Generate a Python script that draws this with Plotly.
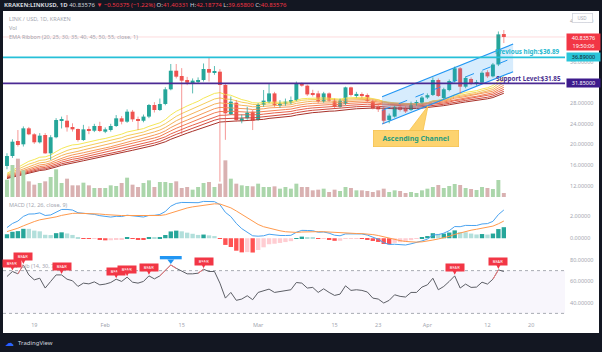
import plotly.graph_objects as go
import pandas as pd

# ---------------- data ----------------
dates = pd.date_range("2021-01-14", "2021-04-15", freq="D")

opens = [15.83, 17.77, 20.67, 20.03, 23.13, 21.97, 20.42, 21.84, 18.28, 21.40,
         24.60, 24.61, 23.26, 23.00, 20.87, 23.00, 22.67, 23.58, 22.48, 22.80,
         23.58, 25.07, 24.42, 26.36, 24.90, 24.60, 25.40, 27.65, 26.68, 27.85,
         30.69, 34.30, 33.27, 32.50, 32.00, 32.20, 32.50, 34.63, 33.92, 34.11,
         31.53, 25.90, 28.10, 24.61, 25.07, 26.36, 24.74, 27.65, 28.30, 29.90,
         27.65, 27.97, 28.10, 28.60, 31.85, 31.40, 29.85, 29.90, 28.30, 29.90,
         28.50, 27.30, 27.85, 31.07, 29.45, 29.70, 29.60, 28.40, 27.30, 26.80,
         24.75, 25.40, 27.30, 27.00, 26.70, 27.90, 28.10, 29.10, 29.60, 32.50,
         29.00, 30.55, 32.30, 34.76, 31.20, 32.70, 31.80, 32.00, 34.00, 33.20,
         35.50, 41.40331]
highs = [18.30, 21.00, 22.80, 23.50, 23.40, 22.20, 22.20, 22.20, 21.80, 25.10,
         25.40, 25.70, 24.10, 23.10, 23.80, 23.50, 24.00, 24.40, 23.30, 24.00,
         25.70, 25.50, 26.80, 26.70, 25.40, 25.80, 27.85, 28.20, 28.90, 31.10,
         35.60, 35.60, 34.80, 33.10, 32.80, 33.00, 35.70, 36.89, 35.20, 34.60,
         31.90, 29.30, 28.60, 25.80, 27.30, 26.70, 28.00, 30.56, 31.85, 30.20,
         28.60, 28.90, 29.30, 32.20, 32.00, 31.60, 30.60, 30.40, 30.20, 30.10,
         28.90, 28.90, 31.20, 31.20, 30.20, 30.10, 29.90, 28.70, 27.60, 27.30,
         26.00, 27.50, 27.80, 27.40, 28.30, 28.60, 29.40, 29.90, 33.00, 32.80,
         31.00, 32.60, 35.10, 35.00, 33.20, 33.00, 32.50, 34.20, 34.40, 35.80,
         41.90, 42.18774]
lows = [15.20, 17.40, 19.60, 19.60, 21.80, 20.10, 20.20, 18.20, 17.00, 21.20,
        23.10, 22.50, 22.50, 20.55, 20.70, 22.00, 22.40, 22.40, 22.20, 22.50,
        23.40, 23.90, 24.20, 24.40, 22.80, 24.30, 25.10, 26.20, 26.50, 27.60,
        30.50, 32.80, 22.00, 31.50, 29.90, 31.80, 32.20, 32.20, 33.50, 12.80,
        20.90, 25.70, 24.40, 24.10, 24.80, 22.80, 24.60, 27.30, 28.00, 27.30,
        27.10, 27.50, 27.80, 28.40, 31.20, 29.40, 29.30, 28.00, 28.10, 28.30,
        27.00, 27.10, 27.60, 29.30, 29.10, 29.00, 28.10, 26.80, 26.30, 24.00,
        24.10, 25.20, 26.40, 26.10, 26.50, 27.50, 27.90, 28.80, 29.40, 29.20,
        28.80, 30.30, 32.00, 29.80, 30.90, 31.50, 31.40, 31.80, 32.90, 33.00,
        35.20, 39.65800]
closes = [17.77, 20.54, 19.90, 23.13, 21.97, 20.42, 21.71, 18.28, 21.40, 24.74,
          24.90, 23.32, 22.93, 20.87, 22.93, 22.67, 23.58, 22.61, 22.93, 23.58,
          25.07, 24.42, 26.36, 24.87, 24.60, 25.40, 27.65, 26.68, 27.85, 30.69,
          34.30, 33.14, 32.37, 31.98, 32.37, 32.50, 34.63, 33.92, 34.24, 31.53,
          26.04, 28.30, 24.74, 25.07, 26.17, 24.61, 27.65, 28.50, 29.90, 27.65,
          27.97, 28.30, 28.60, 31.85, 31.40, 29.70, 29.65, 28.30, 29.90, 28.50,
          27.30, 28.50, 31.07, 29.60, 29.80, 29.40, 28.40, 27.00, 26.80, 24.60,
          25.60, 27.30, 26.70, 26.40, 28.00, 28.10, 29.10, 29.55, 32.50, 29.40,
          30.70, 32.30, 34.76, 31.20, 32.90, 31.80, 32.10, 33.90, 33.20, 35.50,
          41.33951, 40.83576]
volume_k = [1040, 1920, 2300, 1600, 940, 740, 840, 940, 1200, 1660,
            840, 1100, 700, 700, 860, 700, 540, 540, 540, 700,
            660, 840, 1160, 740, 600, 840, 1000, 600, 900, 900,
            840, 940, 540, 600, 440, 600, 840, 900, 600, 800,
            2200, 1100, 800, 700, 660, 640, 800, 600, 600, 640,
            500, 600, 500, 800, 600, 600, 400, 440, 500, 300,
            440, 360, 600, 540, 400, 400, 360, 300, 400, 500,
            300, 400, 360, 240, 300, 240, 400, 500, 600, 720,
            540, 660, 780, 720, 540, 480, 420, 600, 540, 480,
            1020, 240]
rsi_values = [64.5, 69.2, 67.0, 75.3, 66.0, 61.4, 62.9, 53.7, 59.9, 66.0,
              66.0, 62.0, 60.5, 55.2, 58.3, 57.6, 59.5, 56.7, 57.4, 58.9,
              62.0, 59.9, 63.9, 59.2, 58.3, 59.9, 65.1, 62.3, 65.1, 70.1,
              75.3, 72.2, 69.2, 67.0, 67.0, 67.6, 71.3, 69.2, 69.2, 58.3,
              44.3, 49.6, 42.2, 43.4, 46.5, 42.8, 49.6, 51.5, 52.7, 49.6,
              50.2, 50.9, 52.1, 58.9, 58.3, 53.7, 54.3, 49.6, 53.0, 49.6,
              46.8, 48.0, 55.8, 51.5, 52.1, 51.5, 50.0, 44.3, 43.4, 39.7,
              42.2, 47.4, 45.9, 45.3, 49.6, 49.6, 54.6, 56.7, 62.9, 52.1,
              55.2, 59.9, 65.1, 53.7, 57.4, 54.3, 54.6, 59.2, 57.4, 62.0,
              70.7, 69.2]
bear_idx = [1, 3, 10, 20, 22, 26, 36, 82, 90]
bull_idx = [30]

ema_lengths = [20, 25, 30, 35, 40, 45, 50, 55]
ema_seeds = [14.05, 13.90, 13.78, 13.65, 13.55, 13.45, 13.35, 13.24]
macd_fast_seed, macd_slow_seed, macd_signal_seed = 14.65, 13.90, 0.50

last_price = 40.83576
previous_high = 36.89
support_level = 31.85

channel_x = ["2021-03-23 16:48", "2021-04-16 16:48"]
channel_upper = [29.25, 39.47]
channel_lower = [23.96, 34.10]

time_tick_vals = ["2021-01-19", "2021-02-01", "2021-02-15", "2021-03-01", "2021-03-15",
                  "2021-03-23", "2021-04-01", "2021-04-12", "2021-04-20"]
time_tick_text = ["19", "Feb", "15", "Mar", "15", "23", "Apr", "12", "20"]
price_ticks = [12, 16, 20, 24, 28, 32, 36, 40, 44]
macd_ticks = [0, 2]
rsi_ticks = [40, 60, 80]

# ---------------- helpers ----------------
W, H = 602, 352
ML, MR, MT, MB = 3, 37, 11, 32
PW, PH = W - ML - MR, H - MT - MB


def PX(px):
    return (px - ML) / PW


def PY(py):
    return (H - MB - py) / PH


def ema(values, n, seed):
    a = 2.0 / (n + 1)
    e = seed
    out = []
    for v in values:
        e = e + a * (v - e)
        out.append(e)
    return out


UP, DN = "#26a69a", "#ef5350"
GRAY = "#a3a6af"
FONT = "Noto Sans"
DAY_MS = 86400000

fig = go.Figure()

# volume
vol_colors = ["#abd6ab" if c >= o else "#d9b1b1" for o, c in zip(opens, closes)]
fig.add_trace(go.Bar(x=dates, y=volume_k, yaxis="y2", width=0.72 * DAY_MS,
                     marker=dict(color=vol_colors, line=dict(width=0)), hoverinfo="skip"))

# EMA ribbon
ema_colors = ["#f5e857", "#f5cd5c", "#f5b35c", "#f5995a", "#f27f55", "#e6634c", "#cf4a3e", "#a8322a"]
for n, seed, col in zip(ema_lengths, ema_seeds, ema_colors):
    fig.add_trace(go.Scatter(x=dates, y=ema(closes, n, seed), mode="lines",
                             line=dict(color=col, width=1), yaxis="y", hoverinfo="skip"))

# ascending channel
cx = pd.to_datetime(channel_x)
fig.add_trace(go.Scatter(x=[cx[0], cx[1], cx[1], cx[0], cx[0]],
                         y=[channel_upper[0], channel_upper[1], channel_lower[1], channel_lower[0], channel_upper[0]],
                         fill="toself", fillcolor="rgba(33,150,243,0.18)", mode="lines",
                         line=dict(width=0), yaxis="y", hoverinfo="skip"))
for ys, dash in [(channel_upper, "solid"), (channel_lower, "solid"),
                 ([(u + l) / 2 for u, l in zip(channel_upper, channel_lower)], "dash")]:
    fig.add_trace(go.Scatter(x=list(cx), y=ys, mode="lines", yaxis="y",
                             line=dict(color="#2196f3", width=1.2 if dash == "solid" else 1, dash=dash),
                             hoverinfo="skip"))

# candles: wicks + bodies
for is_up, col in [(True, "rgba(38,166,154,0.75)"), (False, "rgba(239,83,80,0.6)")]:
    wx, wy = [], []
    for d, o, h, l, c in zip(dates, opens, highs, lows, closes):
        if (c >= o) == is_up:
            wx += [d, d, None]
            wy += [l, h, None]
    fig.add_trace(go.Scatter(x=wx, y=wy, mode="lines", line=dict(color=col, width=1),
                             yaxis="y", hoverinfo="skip"))
body_colors = [UP if c >= o else DN for o, c in zip(opens, closes)]
fig.add_trace(go.Bar(x=dates, y=[c - o for o, c in zip(opens, closes)], base=opens, yaxis="y",
                     width=0.72 * DAY_MS, marker=dict(color=body_colors, line=dict(width=0)),
                     hoverinfo="skip"))

# MACD
fast = ema(closes, 12, macd_fast_seed)
slow = ema(closes, 26, macd_slow_seed)
macd = [f - s for f, s in zip(fast, slow)]
signal = ema(macd, 9, macd_signal_seed)
hist = [m - s for m, s in zip(macd, signal)]
hist_colors = []
for i, h in enumerate(hist):
    prev = hist[i - 1] if i > 0 else h
    if h >= 0:
        hist_colors.append("#26a69a" if h >= prev else "#b2dfdb")
    else:
        hist_colors.append("#ff5252" if h < prev else "#ffcdd2")
fig.add_trace(go.Bar(x=dates, y=hist, yaxis="y3", width=0.8 * DAY_MS,
                     marker=dict(color=hist_colors, line=dict(width=0)), hoverinfo="skip"))
fig.add_trace(go.Scatter(x=dates, y=macd, mode="lines", yaxis="y3",
                         line=dict(color="#4aa3f0", width=1), hoverinfo="skip"))
fig.add_trace(go.Scatter(x=dates, y=signal, mode="lines", yaxis="y3",
                         line=dict(color="#ff9a4d", width=1), hoverinfo="skip"))

# RSI
fig.add_trace(go.Scatter(x=dates, y=rsi_values, mode="lines", yaxis="y4",
                         line=dict(color="#5d5f66", width=1), hoverinfo="skip"))
px_, py_ = [], []
for i in range(len(rsi_values) - 1):
    if rsi_values[i + 1] > 70:
        px_ += [dates[i], dates[i + 1], None]
        py_ += [rsi_values[i], rsi_values[i + 1], None]
fig.add_trace(go.Scatter(x=px_, y=py_, mode="lines", yaxis="y4",
                         line=dict(color="#f77b7f", width=1), hoverinfo="skip"))
fig.add_trace(go.Scatter(x=[dates[i] for i in bull_idx], y=[rsi_values[i] + 3.8 for i in bull_idx],
                         mode="markers", yaxis="y4",
                         marker=dict(symbol="triangle-down", size=6, color="#2196f3"), hoverinfo="skip"))

# ---------------- shapes ----------------
shapes = []
# RSI band
shapes.append(dict(type="rect", xref="paper", yref="y4", x0=0, x1=1, y0=30, y1=70,
                   fillcolor="rgba(126,87,194,0.05)", line=dict(width=0), layer="below"))
for lv in (70, 30):
    shapes.append(dict(type="line", xref="paper", yref="y4", x0=0, x1=1, y0=lv, y1=lv,
                       line=dict(color="#a8abb3", width=1, dash="dot"), layer="below"))
for i in bull_idx:
    shapes.append(dict(type="rect", xref="x", yref="y4",
                       x0=dates[i] - pd.Timedelta(days=2), x1=dates[i] + pd.Timedelta(days=2),
                       y0=rsi_values[i] + 5.3, y1=83.7, fillcolor="#2196f3", line=dict(width=0)))
# levels
shapes.append(dict(type="line", xref="paper", yref="y", x0=0, x1=1, y0=last_price, y1=last_price,
                   line=dict(color="rgba(242,54,69,0.18)", width=1)))
shapes.append(dict(type="line", xref="paper", yref="y", x0=0, x1=1, y0=previous_high, y1=previous_high,
                   line=dict(color="#26c0d8", width=1.6)))
shapes.append(dict(type="line", xref="paper", yref="y", x0=0, x1=1, y0=support_level, y1=support_level,
                   line=dict(color="#4b2a94", width=1.6)))
# callout tail
shapes.append(dict(type="path", xref="paper", yref="paper",
                   path=f"M {PX(409)},{PY(131)} L {PX(423)},{PY(131)} L {PX(428)},{PY(106)} Z",
                   fillcolor="#fdd36f", line=dict(color="#f6c14c", width=0.8)))
# dark frame
dark = "#131722"
for x0, x1, y0, y1 in [(0, 602, 0, 11), (0, 602, 333, 352), (0, 3, 0, 352), (599, 602, 0, 352)]:
    shapes.append(dict(type="rect", xref="paper", yref="paper", x0=PX(x0), x1=PX(x1),
                       y0=PY(y1), y1=PY(y0), fillcolor=dark, line=dict(width=0), layer="above"))

# ---------------- annotations ----------------
ann = []


def txt(text, x, y, size=5.5, color=GRAY, xanchor="left", yanchor="middle", **kw):
    ann.append(dict(text=text, xref="paper", yref="paper", x=PX(x), y=PY(y), showarrow=False,
                    xanchor=xanchor, yanchor=yanchor, font=dict(family=FONT, size=size, color=color), **kw))


red = "#f23645"
header = ("<b>KRAKEN:LINKUSD, 1D</b> 40.83576 "
          f"<span style='color:{red}'>▼ −0.50375 (−1.22%)</span> "
          f"O:<span style='color:{red}'>41.40331</span> H:<span style='color:{red}'>42.18774</span> "
          f"L:<span style='color:{red}'>39.65800</span> C:<span style='color:{red}'>40.83576</span>")
txt(header, 2, 5.5, size=6, color="#d1d4dc")
txt("LINK / USD, 1D, KRAKEN", 7, 19.3)
txt("Vol", 7, 28.3)
txt("EMA Ribbon (20, 25, 30, 35, 40, 45, 50, 55, close, 1)", 7, 36.7)
txt("MACD (12, 26, close, 9)", 7, 205)
txt("RSI - Lib (14, 30, 70, 90)", 7, 265.5)

# bear labels
for i in bear_idx:
    ann.append(dict(text="BEAR", x=dates[i], y=rsi_values[i], xref="x", yref="y4",
                    showarrow=True, arrowhead=2, arrowsize=1, arrowwidth=1.2, arrowcolor=red,
                    ax=0, ay=-8, standoff=1, bgcolor=red, borderpad=1, width=16, height=5,
                    font=dict(family=FONT, size=4, color="white")))

txt("<b>Previous high:$36.89</b>", 562, 52, size=6.3, color="#26b8cf", xanchor="right")
txt("<b>Support Level:$31.85</b>", 563, 78.3, size=6.3, color="#4a2f8f", xanchor="right")
txt("<b>Ascending Channel</b>", 415.5, 138.5, size=7, color="#2a9d7f", xanchor="center",
    bgcolor="#fdd36f", bordercolor="#f6c14c", borderwidth=0.8, borderpad=2, width=80, height=11)

# price scale boxes
ann.append(dict(text="40.83576<br>19:50:06", xref="paper", yref="y", x=1, y=last_price, xshift=1,
                xanchor="left", yanchor="top", yshift=4.3, showarrow=False, bgcolor=red,
                width=31, height=14, borderpad=1, font=dict(family=FONT, size=5.5, color="white")))
ann.append(dict(text="36.89000", xref="paper", yref="y", x=1, y=previous_high, xshift=1,
                xanchor="left", yanchor="middle", showarrow=False, bgcolor="#29c5d9",
                width=31, height=6, borderpad=1, font=dict(family=FONT, size=5.5, color="#131722")))
ann.append(dict(text="31.85000", xref="paper", yref="y", x=1, y=support_level, xshift=1,
                xanchor="left", yanchor="middle", showarrow=False, bgcolor="#3d1b8c",
                width=31, height=6, borderpad=1, font=dict(family=FONT, size=5.5, color="white")))
txt("USD", 582.5, 17.8, size=4.5, color=GRAY, xanchor="center", bgcolor="white",
    bordercolor="#d1d4dc", borderwidth=0.8, borderpad=1, width=17)

# footer logo
txt("☁", 9, 342.5, size=9, color="#2962ff", xanchor="center")
txt("TradingView", 16, 343, size=6, color="#d1d4dc")

axis_font = dict(family=FONT, size=5.5, color=GRAY)
common_y = dict(side="right", showgrid=False, zeroline=False, showline=False, ticks="",
                ticklabelstandoff=4, tickfont=axis_font, anchor="x")

fig.update_layout(
    width=W, height=H, margin=dict(l=ML, r=MR, t=MT, b=MB),
    paper_bgcolor="white", plot_bgcolor="white", showlegend=False, barmode="overlay",
    font=dict(family=FONT, size=5.5, color=GRAY),
    xaxis=dict(type="date", range=["2021-01-13 06:30", "2021-04-26 04:50"], anchor="y4",
               tickvals=time_tick_vals, ticktext=time_tick_text, showgrid=False, zeroline=False,
               showline=False, ticks="", tickfont=axis_font),
    yaxis=dict(domain=[PY(197), 1], range=[9.82, 45.87], tickvals=price_ticks,
               ticktext=[f"{v:.5f}" for v in price_ticks], **common_y),
    yaxis2=dict(overlaying="y", range=[0, 11160], visible=False),
    yaxis3=dict(domain=[PY(256), PY(197)], range=[-1.57, 3.65], tickvals=macd_ticks,
                ticktext=[f"{v:.5f}" for v in macd_ticks], **common_y),
    yaxis4=dict(domain=[0, PY(256)], range=[23.8, 83.7], tickvals=rsi_ticks,
                ticktext=[f"{v:.5f}" for v in rsi_ticks], **common_y),
    shapes=shapes, annotations=ann,
)

fig.write_html("out.html")
